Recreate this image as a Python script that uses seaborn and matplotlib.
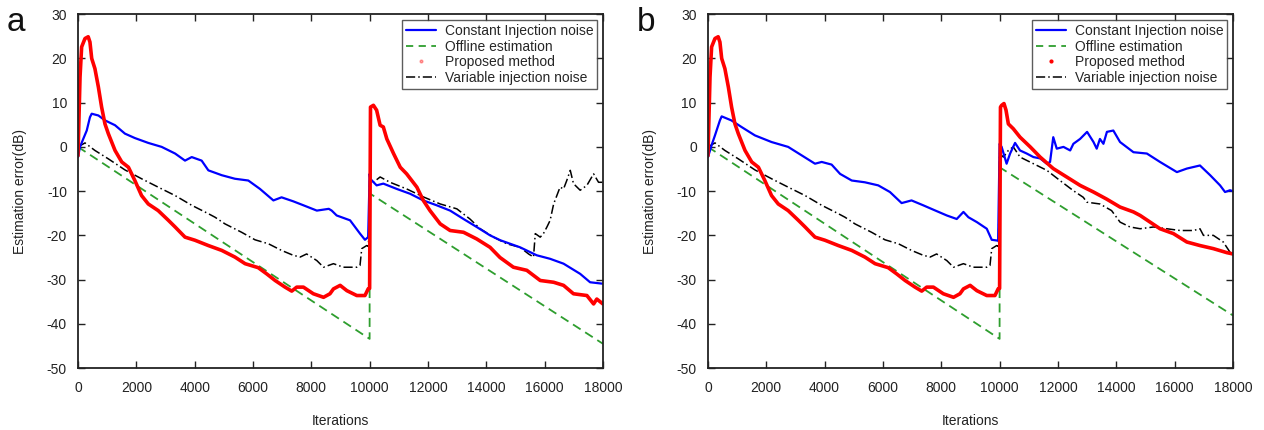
import numpy as np
import pandas as pd
import matplotlib
matplotlib.use("Agg")
import matplotlib.pyplot as plt
from matplotlib.lines import Line2D
import seaborn as sns

# ---- data (iteration, estimation error in dB) ----
# panel a
blue_a_x = [0, 70, 180, 300, 410, 470, 700, 925, 1270, 1610, 1950, 2410, 2870, 3330, 3670,
            3900, 4240, 4470, 4930, 5380, 5840, 6240, 6700, 6980, 7380, 7730, 8190, 8600,
            8700, 8870, 9330, 9670, 9840, 9950, 10000, 10020, 10240, 10470, 10930, 11390,
            11840, 12300, 12760, 13220, 13670, 14130, 14480, 15160, 15730, 16190, 16650,
            17220, 17560, 17960, 18000]
blue_a_y = [-2.3, 0.0, 1.8, 3.7, 6.7, 7.5, 7.1, 6.0, 4.9, 3.0, 2.0, 0.9, 0.0, -1.5, -3.1,
            -2.3, -3.1, -5.3, -6.4, -7.2, -7.6, -9.5, -12.1, -11.4, -12.3, -13.2, -14.4, -14.0,
            -14.4, -15.5, -16.6, -19.6, -21.0, -20.4, -6.1, -7.2, -8.7, -8.3, -9.5, -10.6,
            -12.1, -13.2, -14.4, -16.3, -18.1, -20.0, -21.1, -22.7, -24.5, -25.3, -26.4,
            -28.7, -30.6, -30.9, -30.9]

black_first_x = [0, 240, 580, 1040, 1610, 2180, 2750, 3330, 3900, 4470, 4700, 5040, 5610,
                 6070, 6530, 6980, 7380, 7620, 7840, 8190, 8420, 8760, 9100, 9560, 9670,
                 9730, 9900, 9960]
black_first_y = [0.0, 0.9, -0.8, -2.7, -5.2, -7.2, -9.1, -11.0, -13.2, -15.1, -15.9, -17.4,
                 -19.3, -21.0, -21.9, -23.4, -24.5, -24.9, -24.2, -25.7, -27.2, -26.4, -27.2,
                 -27.2, -26.8, -23.0, -22.3, -22.5]
black_a_x = [10000, 10070, 10360, 10700, 11270, 11840, 12420, 12990, 13440, 13790, 14250,
             14700, 15160, 15450, 15620, 15680, 15850, 15960, 16080, 16190, 16310, 16420,
             16530, 16650, 16760, 16880, 16990, 17220, 17450, 17680, 17850, 18000]
black_a_y = [-7.6, -8.3, -6.8, -8.0, -9.5, -11.3, -12.9, -14.0, -16.3, -18.5, -20.4, -21.9,
             -22.7, -24.2, -24.9, -19.6, -20.4, -19.6, -18.1, -16.6, -12.9, -11.0, -9.1, -9.5,
             -7.6, -5.3, -8.3, -9.8, -8.7, -6.1, -8.0, -8.0]

red_first_x = [0, 70, 125, 240, 350, 410, 470, 580, 700, 810, 925, 1040, 1270, 1500, 1730,
               1950, 2180, 2410, 2750, 3100, 3330, 3670, 4010, 4470, 4930, 5380, 5730, 6180,
               6470, 6760, 7100, 7330, 7500, 7730, 8070, 8420, 8640, 8760, 8990, 9220, 9560,
               9840, 9950, 10000]
red_first_y = [-2.0, 15.8, 22.6, 24.5, 24.9, 23.7, 20.0, 17.7, 13.5, 9.0, 5.2, 3.0, -0.8,
               -3.4, -4.6, -7.6, -11.0, -12.9, -14.4, -16.6, -18.1, -20.4, -21.1, -22.3,
               -23.4, -24.9, -26.4, -27.3, -28.7, -30.2, -31.7, -32.6, -31.7, -31.7, -33.2,
               -34.0, -33.2, -32.1, -31.3, -32.5, -33.6, -33.6, -32.1, -32.0]
red_a_x = [10030, 10130, 10240, 10360, 10470, 10590, 10820, 11050, 11270, 11620, 11840,
           12070, 12420, 12760, 13220, 13670, 14130, 14470, 14930, 15390, 15850, 16310,
           16650, 16990, 17450, 17680, 17790, 18000]
red_a_y = [9.0, 9.4, 8.3, 4.9, 4.5, 1.8, -1.5, -4.6, -6.1, -9.1, -12.1, -14.4, -17.4, -18.9,
           -19.3, -20.8, -22.7, -25.0, -27.2, -27.9, -30.2, -30.6, -31.3, -33.2, -33.6,
           -35.5, -34.4, -35.5]

green_x = [0, 10000, 10000, 18000]
green_a_y = [0.0, -43.4, -10.5, -44.5]

# panel b
blue_b_x = [0, 140, 240, 410, 470, 800, 1150, 1610, 2180, 2750, 3210, 3670, 3900, 4240, 4530,
            4930, 5380, 5840, 6240, 6640, 6980, 7380, 7730, 8190, 8530, 8760, 8930, 9220,
            9560, 9730, 9950, 10000, 10070, 10240, 10360, 10530, 10700, 10930, 11160, 11390,
            11620, 11730, 11840, 11960, 12190, 12420, 12530, 12760, 13000, 13220, 13330,
            13440, 13560, 13680, 13900, 14130, 14590, 15050, 15500, 16080, 16420, 16870,
            17220, 17560, 17730, 17900, 18000]
blue_b_y = [-2.3, 0.7, 2.6, 6.0, 6.9, 6.0, 4.5, 2.6, 1.1, 0.0, -1.9, -3.8, -3.4, -4.0, -6.1,
            -7.6, -8.0, -8.7, -10.2, -12.7, -12.1, -13.2, -14.2, -15.5, -16.3, -14.7, -15.9,
            -17.0, -18.5, -21.0, -21.2, 0.7, 0.0, -3.8, -1.5, 0.9, -0.8, -1.5, -2.3, -2.6,
            -3.8, -3.4, 2.2, -0.4, 0.0, -0.8, 0.7, 1.8, 3.4, 1.1, -0.4, 1.8, 0.7, 3.4, 3.7,
            1.1, -1.2, -1.5, -3.4, -5.7, -4.9, -4.2, -6.4, -8.7, -10.2, -9.8, -10.0]

black_b_x = [10000, 10130, 10300, 10470, 10700, 11160, 11620, 12070, 12530, 12870, 12990,
             13440, 13840, 14130, 14470, 14820, 15280, 15730, 16190, 16650, 16870, 16990,
             17330, 17670, 17900, 18000]
black_b_y = [-1.5, -2.3, -0.8, 0.0, -2.3, -3.8, -5.3, -7.6, -9.9, -11.4, -12.5, -12.9, -14.4,
             -17.0, -18.1, -18.5, -18.1, -18.5, -18.9, -18.9, -18.5, -20.0, -20.0, -21.5,
             -23.8, -24.5]

red_b_x = [10030, 10070, 10150, 10220, 10300, 10470, 10700, 11050, 11390, 11840, 12300,
           12760, 13220, 13670, 14130, 14590, 14820, 15500, 15960, 16420, 16870, 17330,
           17790, 18000]
red_b_y = [9.0, 9.4, 9.8, 8.3, 5.2, 4.1, 2.2, 0.0, -2.3, -4.9, -6.8, -8.7, -10.2, -11.8,
           -13.6, -14.7, -15.5, -18.5, -19.6, -21.5, -22.3, -23.0, -23.9, -24.2]

green_b_y = [0.0, -43.4, -4.6, -38.1]

labels = ["Constant Injection noise", "Offline estimation",
          "Proposed method", "Variable injection noise"]
x_ticks = list(range(0, 18001, 2000))
y_ticks = list(range(-50, 31, 10))

sns.set_style("ticks")
plt.rcParams["font.family"] = ["Liberation Sans", "DejaVu Sans"]
plt.rcParams["axes.unicode_minus"] = False

fig = plt.figure(figsize=(12.64, 4.3), dpi=100)
ax_a = fig.add_axes([0.0617, 0.144, 0.4153, 0.823])
ax_b = fig.add_axes([0.5601, 0.144, 0.4153, 0.823])

styles = {
    "blue": dict(color="#0000ff", lw=1.6, ls="-"),
    "green": dict(color="#2e9e2e", lw=1.3, ls=(0, (5, 3))),
    "red": dict(color="#ff0000", lw=2.6, ls="-"),
    "black": dict(color="black", lw=1.1, ls=(0, (6, 2, 1, 2))),
}


def draw(ax, series, letter, dot_alpha):
    for name, xs, ys in series:
        df = pd.DataFrame({"it": xs, "err": ys})
        st = styles[name]
        sns.lineplot(data=df, x="it", y="err", ax=ax, estimator=None, sort=False,
                     color=st["color"], linewidth=st["lw"], linestyle=st["ls"])
    ax.set_xlim(0, 18000)
    ax.set_ylim(-50, 30)
    ax.set_xticks(x_ticks)
    ax.set_yticks(y_ticks)
    ax.tick_params(direction="in", top=True, right=True, length=5, width=1,
                   labelsize=10, colors="#222222")
    ax.tick_params(axis="x", pad=9)
    ax.tick_params(axis="y", pad=8)
    for s in ax.spines.values():
        s.set_linewidth(1.3)
        s.set_color("#222222")
    ax.set_xlabel("Iterations", fontsize=10, labelpad=14, color="#222222")
    ax.set_ylabel("Estimation error(dB)", fontsize=10, labelpad=14, color="#222222")

    handles = [
        Line2D([], [], color=styles["blue"]["color"], lw=1.6),
        Line2D([], [], color=styles["green"]["color"], lw=1.3, ls=(0, (4, 3))),
        Line2D([], [], color="red", lw=0, marker=".", markersize=4, alpha=dot_alpha),
        Line2D([], [], color="black", lw=1.1, ls=(0, (6, 2, 1, 2))),
    ]
    leg = ax.legend(handles, labels, loc="upper right", fontsize=10, frameon=True,
                    fancybox=False, borderaxespad=0.4, labelspacing=0.12,
                    handlelength=2.2, handletextpad=0.6, borderpad=0.3)
    leg.get_frame().set_edgecolor("#333333")
    leg.get_frame().set_linewidth(1.0)
    fig.text(ax.get_position().x0 - 0.049, 0.948, letter, fontsize=24,
             ha="center", va="center", color="#111111")


draw(ax_a, [("green", green_x, green_a_y),
            ("black", black_first_x + black_a_x, black_first_y + black_a_y),
            ("blue", blue_a_x, blue_a_y),
            ("red", red_first_x + red_a_x, red_first_y + red_a_y)], "a", 0.35)
draw(ax_b, [("green", green_x, green_b_y),
            ("black", black_first_x + black_b_x, black_first_y + black_b_y),
            ("blue", blue_b_x, blue_b_y),
            ("red", red_first_x + red_b_x, red_first_y + red_b_y)], "b", 1.0)

fig.savefig("out.png", dpi=100)
